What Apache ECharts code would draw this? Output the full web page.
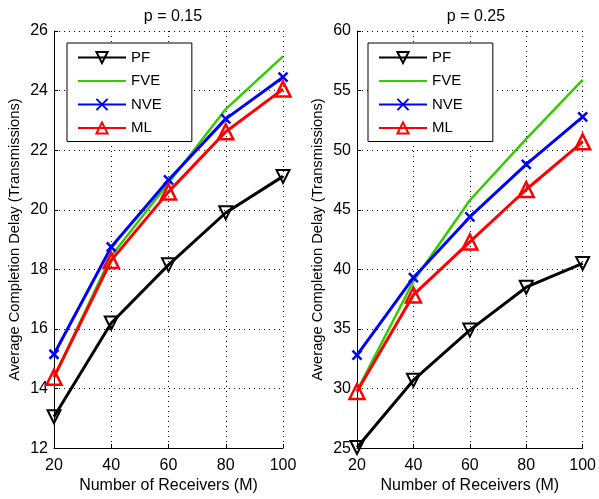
<!DOCTYPE html>
<html>
<head>
<meta charset="utf-8">
<script src="https://cdn.jsdelivr.net/npm/echarts@6/dist/echarts.min.js"></script>
<style>html,body{margin:0;padding:0;background:#fff}#c{width:599px;height:499px}</style>
</head>
<body>
<div id="c"></div>
<script>
const receivers = [20, 40, 60, 80, 100];
const seriesNames = ['PF', 'FVE', 'NVE', 'ML'];
const titles = ['p = 0.15', 'p = 0.25'];
// p = 0.15
const pf15  = [13.05, 16.2, 18.15, 19.9, 21.12];
const fve15 = [14.38, 18.45, 20.9, 23.38, 25.15];
const nve15 = [15.15, 18.75, 21.0, 23.05, 24.45];
const ml15  = [14.38, 18.3, 20.6, 22.62, 24.05];
// p = 0.25
const pf25  = [25.05, 30.7, 34.9, 38.5, 40.5];
const fve25 = [29.8, 39.0, 45.8, 50.95, 55.9];
const nve25 = [32.8, 39.3, 44.4, 48.8, 52.8];
const ml25  = [29.75, 37.85, 42.3, 46.7, 50.7];
const yTicks15 = [12, 14, 16, 18, 20, 22, 24, 26];
const yTicks25 = [25, 30, 35, 40, 45, 50, 55, 60];

const FONT = 'Liberation Sans, Arial, sans-serif';
const pair = v => receivers.map((x, i) => [x, v[i]]);
const xPath = 'path://M0,0L10,10M10,0L0,10';

function mkSeries(idx, vals) {
  const [pf, fve, nve, ml] = vals;
  return [
    {name: 'PF', type: 'line', xAxisIndex: idx, yAxisIndex: idx, data: pair(pf),
     symbol: 'triangle', symbolRotate: 180, symbolSize: 13,
     lineStyle: {color: '#000', width: 3}, itemStyle: {color: 'rgba(255,255,255,0)', borderColor: '#000', borderWidth: 2},
     z: 1},
    {name: 'FVE', type: 'line', xAxisIndex: idx, yAxisIndex: idx, data: pair(fve),
     symbol: 'none', lineStyle: {color: '#33cc00', width: 2.5}, itemStyle: {color: '#33cc00'}, z: 2},
    {name: 'NVE', type: 'line', xAxisIndex: idx, yAxisIndex: idx, data: pair(nve),
     symbol: xPath, symbolSize: 9,
     lineStyle: {color: '#0000ff', width: 3}, itemStyle: {color: '#0000ff', borderColor: '#0000ff', borderWidth: 2.5}, z: 3},
    {name: 'ML', type: 'line', xAxisIndex: idx, yAxisIndex: idx, data: pair(ml),
     symbol: 'triangle', symbolSize: 15,
     lineStyle: {color: '#ff0000', width: 3}, itemStyle: {color: 'rgba(255,255,255,0)', borderColor: '#ff0000', borderWidth: 2.5}, z: 4}
  ];
}

function mkX(idx) {
  return {type: 'value', gridIndex: idx, min: 20, max: 100, interval: 20,
    name: 'Number of Receivers (M)', nameLocation: 'middle', nameGap: 29,
    nameTextStyle: {fontFamily: FONT, fontSize: 16, color: '#000'},
    axisLine: {lineStyle: {color: '#000', width: 1}},
    axisTick: {inside: true, length: 4, lineStyle: {color: '#000'}},
    axisLabel: {fontFamily: FONT, fontSize: 16, color: '#000', margin: 9},
    splitLine: {show: true, lineStyle: {color: '#000', type: [1, 4], width: 1}}};
}
function mkY(idx, ticks) {
  return {type: 'value', gridIndex: idx, min: ticks[0], max: ticks[ticks.length - 1],
    interval: ticks[1] - ticks[0],
    name: 'Average Completion Delay (Transmissions)', nameLocation: 'middle', nameGap: 32,
    nameTextStyle: {fontFamily: FONT, fontSize: 14.7, color: '#000'},
    axisLine: {show: true, lineStyle: {color: '#000', width: 1}},
    axisTick: {show: true, inside: true, length: 4, lineStyle: {color: '#000'}},
    axisLabel: {fontFamily: FONT, fontSize: 16, color: '#000', margin: 6},
    splitLine: {show: true, lineStyle: {color: '#000', type: [1, 4], width: 1}}};
}
function mkLegend(left) {
  return {data: seriesNames.map(n => n === 'FVE' ? {name: n, itemStyle: {opacity: 0}} : n),
    orient: 'vertical', left: left, top: 43,
    backgroundColor: '#fff', borderColor: '#000', borderWidth: 1,
    padding: [7, 30, 6, 10], itemWidth: 48, itemHeight: 14, itemGap: 8.5,
    textStyle: {fontFamily: FONT, fontSize: 15, color: '#000', padding: [0, 0, 0, 0]},
    selectedMode: false};
}

const chart = echarts.init(document.getElementById('c'), null, {renderer: 'canvas'});
chart.setOption({
  animation: false,
  backgroundColor: '#fff',
  title: [
    {text: titles[0], left: 168, top: 4, textAlign: 'center', textStyle: {fontFamily: FONT, fontSize: 16, fontWeight: 'normal', color: '#000'}},
    {text: titles[1], left: 471, top: 4, textAlign: 'center', textStyle: {fontFamily: FONT, fontSize: 16, fontWeight: 'normal', color: '#000'}}
  ],
  grid: [
    {left: 54, top: 31, width: 229, height: 420},
    {left: 357, top: 31, width: 228, height: 420}
  ],
  legend: [mkLegend(67), mkLegend(368)],
  xAxis: [mkX(0), mkX(1)],
  yAxis: [mkY(0, yTicks15), mkY(1, yTicks25)],
  series: [...mkSeries(0, [pf15, fve15, nve15, ml15]), ...mkSeries(1, [pf25, fve25, nve25, ml25])]
});
</script>
</body>
</html>
